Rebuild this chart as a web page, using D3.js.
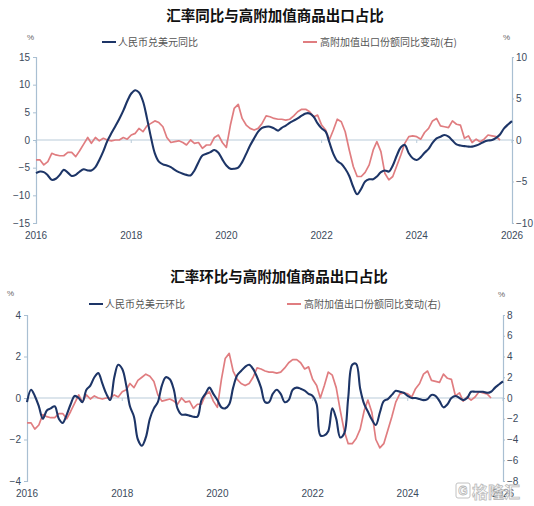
<!DOCTYPE html>
<html lang="zh">
<head>
    <meta charset="UTF-8">
    <title>汇率与高附加值商品出口占比</title>
    <script src="https://d3js.org/d3.v7.min.js"></script>
    <style>
        body { margin: 0; background: #fff; }
        svg { display: block; }
        .tick-label { font-family: "Liberation Sans", Arial, sans-serif; font-size: 10px; fill: #3b4a5c; }
        .title { font-family: "Noto Sans CJK SC", sans-serif; font-size: 14.5px; font-weight: bold; fill: #111; }
        .legend { font-family: "Noto Sans CJK SC", sans-serif; font-size: 10px; fill: #555; }
        .unit { font-family: "Liberation Sans", Arial, sans-serif; font-size: 8px; fill: #666; }
    </style>
</head>
<body>
<svg id="chart" width="534" height="506"></svg>
<script>
    // monthly series, first value = Jan 2016
    const startYear = 2016;
    const yearTicks = [2016, 2018, 2020, 2022, 2024, 2026];

    // 人民币兑美元同比 (left axis, top panel)
    const cnyYoY = [
        -6.0, -5.7, -5.8, -6.4, -7.2, -7.0, -6.3, -5.4, -5.9, -6.5, -6.3, -5.7,
        -5.3, -5.5, -5.5, -4.9, -3.6, -2.0, -0.2, 1.2, 2.5, 3.8, 5.3, 7.0,
        8.4, 9.0, 8.6, 7.0, 4.0, 0.5, -2.4, -3.9, -4.4, -4.6, -4.9, -5.4,
        -5.8, -6.1, -6.3, -6.4, -5.5, -4.0, -2.8, -2.5, -2.2, -1.8, -2.3, -3.5,
        -4.6, -5.2, -5.2, -5.0, -4.0, -2.5, -1.0, 0.3, 1.5, 2.2, 2.4, 2.4,
        2.1, 1.7, 2.2, 2.6, 3.1, 3.5, 3.9, 4.4, 4.8, 4.8, 4.2, 3.0,
        2.1, 1.5, -0.4, -2.5, -3.8, -4.3, -5.2, -6.5, -8.5, -9.8, -8.8, -7.5,
        -7.1, -7.1, -6.6, -5.8, -5.5, -5.7, -4.6, -2.8, -1.3, -0.9, -2.4, -3.3,
        -3.6, -3.1, -2.3, -1.6, -0.5, 0.3, 0.6, 0.9, 0.6, -0.1, -0.8, -1.0,
        -1.1, -1.2, -1.2, -1.0, -0.7, -0.3, -0.1, 0.0, 0.4, 1.0, 2.1, 2.8,
        3.4
    ];

    // 人民币兑美元环比 (left axis, bottom panel)
    const cnyMoM = [
        -0.2, 0.4, 0.1, -0.4, -1.0, -0.6, -0.5, -0.4, -1.0, -1.2, -0.8, -0.3,
        0.1, 0.0, -0.2, 0.4, 0.6, 1.0, 1.2, 0.7, 0.2, -0.1, 1.0, 1.6,
        1.4, 0.6, -0.4, -0.9, -2.0, -2.3, -1.9, -1.0, -0.5, -0.2, 0.6, 1.0,
        0.9, 0.4, -0.5, -0.8, -0.8, -0.85, -0.9, -0.9, -0.1, 0.2, 0.5, 0.2,
        -0.1, -0.45, -0.5, -0.3, 0.5, 1.1, 1.3, 1.5, 1.6, 1.4, 1.0, 0.5,
        -0.2, -0.2, 0.2, 0.4, 0.2, -0.2, -0.1, 0.4, 0.5, 0.45, 0.35, 0.2,
        0.1, -0.3, -1.8, -1.8, -1.6, -0.5, -1.0, -1.9, -1.7, 0.0, 1.6, 1.65,
        0.45, -0.3, -0.65, -1.05, -1.3, -0.7, -0.15, -0.05, 0.15, 0.35, 0.3, 0.25,
        0.1, 0.0, 0.0, -0.05, -0.1, -0.05, 0.15, 0.1, -0.15, -0.45, -0.3, 0.0,
        0.1, 0.0, -0.1, 0.0, 0.3, 0.3, 0.3, 0.3, 0.25, 0.3, 0.5, 0.65,
        0.8
    ];

    // 高附加值出口份额同比变动 (right axis, both panels)
    const hvShareChg = [
        -2.4, -2.4, -3.0, -2.6, -1.6, -1.8, -1.9, -1.9, -1.5, -1.5, -2.0, -1.3,
        -0.5, 0.3, -0.4, 0.3, -0.1, 0.2, 0.0, -0.1, 0.0, 0.0, 0.3, 0.1,
        0.6, 0.8, 1.4, 1.0, 1.7, 2.0, 2.3, 2.1, 1.6, 0.3, -0.3, -0.2,
        -0.1, -0.3, -0.6, 0.0, -0.4, -0.3, -1.0, -0.6, -0.6, 0.3, 0.6, -0.3,
        -0.9, 1.8, 3.8, 4.3, 2.6, 1.8, 1.4, 1.2, 1.4, 2.0, 2.9, 2.8,
        2.6, 2.5, 2.5, 2.4, 2.5, 2.9, 3.4, 3.7, 3.7, 3.4, 2.8, 3.0,
        1.8, 1.2, 0.0, 1.2, 2.5, 2.2, 1.0, -1.2, -3.2, -4.4, -4.4, -3.9,
        -3.0, -1.2, -0.2, -1.4, -4.0, -4.8, -4.4, -3.1, -1.8, -0.4, 0.4, 0.5,
        0.4, 0.1, 0.9, 1.4, 2.3, 2.6, 1.7, 1.6, 1.5, 2.3, 1.9, 1.8,
        0.2, 0.5, -0.3, 0.1, -0.2, 0.1, 0.6, 0.5, 0.4, 0.0
    ];

    const topLeftTicks = [-15, -10, -5, 0, 5, 10, 15];
    const topRightTicks = [-10, -5, 0, 5, 10];
    const botLeftTicks = [-4, -2, 0, 2, 4];
    const botRightTicks = [-8, -6, -4, -2, 0, 2, 4, 6, 8];

    const blue = "#1d3567", red = "#e07d80", axisCol = "#a9bfd2", zeroCol = "#b9cbd9";
    const svg = d3.select("#chart");
    const monthDate = i => new Date(startYear, i, 1);

    function drawPanel(p) {
        const g = svg.append("g");
        const x = d3.scaleTime()
            .domain([new Date(startYear, 0, 1), new Date(2026, 0, 1)])
            .range([p.x0, p.x1]);
        const yL = d3.scaleLinear().domain(p.leftDom).range([p.yBot, p.yTop]);
        const yR = d3.scaleLinear().domain(p.rightDom).range([p.yBot, p.yTop]);

        g.append("text").attr("class", "title")
            .attr("x", p.titleX).attr("y", p.titleY)
            .attr("text-anchor", "middle").text(p.title);

        // zero line with year ticks
        g.append("line").attr("x1", p.x0).attr("x2", p.x1)
            .attr("y1", yL(0)).attr("y2", yL(0))
            .attr("stroke", zeroCol).attr("stroke-width", 1.2);
        g.selectAll(".ytick").data(yearTicks).join("line")
            .attr("x1", d => x(new Date(d, 0, 1))).attr("x2", d => x(new Date(d, 0, 1)))
            .attr("y1", yL(0)).attr("y2", yL(0) + 3)
            .attr("stroke", zeroCol);

        // year labels at the bottom
        g.selectAll(".xl").data(yearTicks).join("text")
            .attr("class", "tick-label")
            .attr("x", d => x(new Date(d, 0, 1))).attr("y", p.xLabelY)
            .attr("text-anchor", "middle").text(d => d);

        // left axis
        const la = g.append("g").attr("transform", `translate(${p.x0},0)`)
            .call(d3.axisLeft(yL).tickValues(p.leftTicks).tickSize(3).tickPadding(3));
        // right axis
        const ra = g.append("g").attr("transform", `translate(${p.x1},0)`)
            .call(d3.axisRight(yR).tickValues(p.rightTicks).tickSize(2).tickPadding(2));
        [la, ra].forEach(a => {
            a.select(".domain").attr("stroke", axisCol).attr("stroke-width", 1.2);
            a.selectAll(".tick line").attr("stroke", axisCol);
            a.selectAll(".tick text").attr("class", "tick-label").attr("fill", null);
        });

        g.append("text").attr("class", "unit").attr("x", p.pctL[0]).attr("y", p.pctL[1]).text("%");
        g.append("text").attr("class", "unit").attr("x", p.pctR[0]).attr("y", p.pctR[1]).text("%");

        // legend
        g.append("line").attr("x1", p.legB[0]).attr("x2", p.legB[0] + 14)
            .attr("y1", p.legB[1]).attr("y2", p.legB[1]).attr("stroke", blue).attr("stroke-width", 2);
        g.append("text").attr("class", "legend").attr("x", p.legB[0] + 16).attr("y", p.legB[1] + 3.5)
            .text(p.blueName);
        g.append("line").attr("x1", p.legR[0]).attr("x2", p.legR[0] + 14)
            .attr("y1", p.legR[1]).attr("y2", p.legR[1]).attr("stroke", red).attr("stroke-width", 2);
        g.append("text").attr("class", "legend").attr("x", p.legR[0] + 17).attr("y", p.legR[1] + 3.5)
            .text("高附加值出口份额同比变动(右)");

        // lines
        const lineR = d3.line().x((d, i) => x(monthDate(i))).y(d => yR(d));
        const lineL = d3.line().x((d, i) => x(monthDate(i))).y(d => yL(d))
            .curve(d3.curveCatmullRom.alpha(0.5));
        g.append("path").datum(hvShareChg).attr("d", lineR)
            .attr("fill", "none").attr("stroke", red).attr("stroke-width", 1.7)
            .attr("stroke-linejoin", "round");
        g.append("path").datum(p.blueData).attr("d", lineL)
            .attr("fill", "none").attr("stroke", blue).attr("stroke-width", 2.1)
            .attr("stroke-linejoin", "round");
    }

    drawPanel({
        title: "汇率同比与高附加值商品出口占比", titleX: 275, titleY: 21,
        x0: 36, x1: 512, yTop: 57, yBot: 223, xLabelY: 239,
        leftDom: [-15, 15], rightDom: [-10, 10],
        leftTicks: topLeftTicks, rightTicks: topRightTicks,
        pctL: [27, 40], pctR: [503, 40],
        legB: [102, 42], legR: [303, 42],
        blueName: "人民币兑美元同比", blueData: cnyYoY
    });

    drawPanel({
        title: "汇率环比与高附加值商品出口占比", titleX: 279, titleY: 282,
        x0: 27, x1: 503, yTop: 315, yBot: 481, xLabelY: 497,
        leftDom: [-4, 4], rightDom: [-8, 8],
        leftTicks: botLeftTicks, rightTicks: botRightTicks,
        pctL: [7, 296], pctR: [498, 297],
        legB: [89, 304], legR: [287, 304],
        blueName: "人民币兑美元环比", blueData: cnyMoM
    });

    // site watermark, bottom right (sits over the corner labels as in the source image)
    const wm = svg.append("g").attr("opacity", 0.85);
    wm.append("rect").attr("x", 456).attr("y", 483).attr("width", 14).attr("height", 15)
        .attr("rx", 2).attr("fill", "#fff").attr("stroke", "#b8b8b8").attr("stroke-width", 1);
    wm.append("text").attr("x", 463).attr("y", 495).attr("text-anchor", "middle")
        .attr("font-family", "Liberation Sans, sans-serif").attr("font-weight", "bold")
        .attr("font-size", 12).attr("fill", "#fff").attr("stroke", "#aaa").attr("stroke-width", 0.8)
        .text("G");
    wm.append("text").attr("x", 472).attr("y", 498)
        .attr("font-family", "Noto Sans CJK SC, sans-serif").attr("font-weight", "bold")
        .attr("font-size", 16).attr("fill", "#fff").attr("stroke", "#b0b0b0").attr("stroke-width", 0.8)
        .text("格隆汇");
</script>
</body>
</html>
